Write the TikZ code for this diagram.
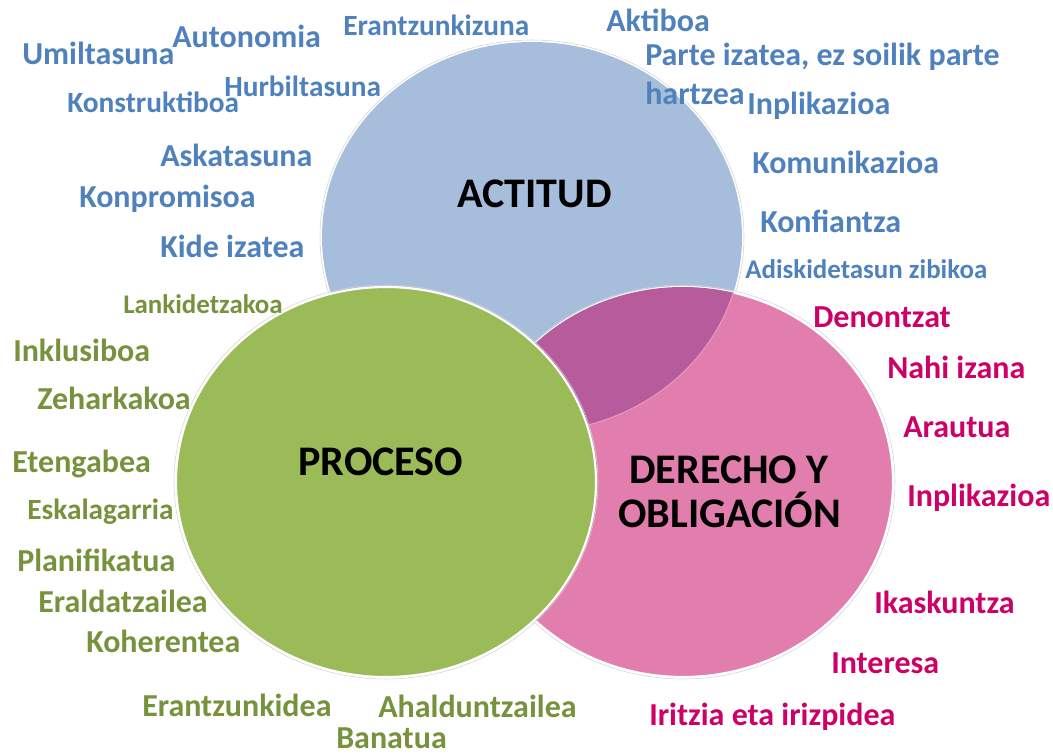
\documentclass[tikz,border=0pt]{standalone}
\usepackage{fontspec}
\setmainfont{Carlito}
\usepackage{tikz}

\definecolor{actfill}{RGB}{166,190,220}
\definecolor{procfill}{RGB}{155,187,89}
\definecolor{derfill}{RGB}{226,126,174}
\definecolor{mixfill}{RGB}{182,92,157}
\definecolor{acttext}{RGB}{79,129,189}
\definecolor{proctext}{RGB}{118,146,60}
\definecolor{dertext}{RGB}{204,0,102}

\begin{document}
\begin{tikzpicture}[x=0.75pt, y=-0.75pt,
    lbl/.style={inner sep=0pt, anchor=base west, font=\bfseries\fontsize{24}{28}\selectfont},
    small/.style={font=\bfseries\fontsize{22}{26}\selectfont},
    tiny/.style={font=\bfseries\fontsize{20.2}{24}\selectfont},
    title/.style={inner sep=0pt, anchor=base west, font=\bfseries\fontsize{31.6}{36}\selectfont},
    actlbl/.style={lbl, text=acttext},
    proclbl/.style={lbl, text=proctext},
    derlbl/.style={lbl, text=dertext},
    halo/.style={draw=gray!35, line width=0.4pt},
    rim/.style={draw=white, line width=1.6pt}]
    \useasboundingbox (0, 0) rectangle (1053, 755);

    % circles
    \draw[halo] (532, 237) ellipse [x radius=159pt, y radius=147.75pt];
    \fill[actfill] (532, 237) ellipse [x radius=157.5pt, y radius=146.25pt];
    \draw[halo] (683, 482) ellipse [x radius=159pt, y radius=147.75pt];
    \fill[derfill, rim] (683, 482) ellipse [x radius=157.5pt, y radius=146.25pt];
    \begin{scope}
        \clip (683, 482) ellipse [x radius=157.5pt, y radius=146.25pt];
        \fill[mixfill] (532, 237) ellipse [x radius=157.5pt, y radius=146.25pt];
        \draw[derfill!80!white, line width=0.8pt] (532, 237) ellipse [x radius=157.5pt, y radius=146.25pt];
    \end{scope}
    \draw[halo] (386, 482) ellipse [x radius=159pt, y radius=147.75pt];
    \fill[procfill, rim] (386, 482) ellipse [x radius=157.5pt, y radius=146.25pt];

    % titles
    \node[title] at (457, 208) (actitud) {ACTITUD};
    \node[title] at (298, 475) (proceso) {PROCESO};
    \node[title] at (629, 483) (derecho) {DERECHO Y};
    \node[title] at (618, 527) (obligacion) {OBLIGACIÓN};

    % ACTITUD
    \node[actlbl] at (22, 65) (a1) {Umiltasuna};
    \node[actlbl] at (172, 48) (a2) {Autonomia};
    \node[actlbl, small] at (343, 36) (a3) {Erantzunkizuna};
    \node[actlbl] at (606, 32) (a4) {Aktiboa};
    \node[actlbl] at (645, 66) (a5) {Parte izatea, ez soilik parte};
    \node[actlbl] at (747, 115) (a7) {Inplikazioa};
    \node[actlbl] at (645, 105) (a6) {hartzea};
    \node[actlbl] at (752, 174) (a8) {Komunikazioa};
    \node[actlbl] at (760, 233) (a9) {Konfiantza};
    \node[actlbl, tiny] at (745, 279) (a10) {Adiskidetasun zibikoa};
    \node[actlbl, small] at (224, 97) (a11) {Hurbiltasuna};
    \node[actlbl, small] at (67, 113) (a12) {Konstruktiboa};
    \node[actlbl] at (160, 167) (a13) {Askatasuna};
    \node[actlbl] at (79, 208) (a14) {Konpromisoa};
    \node[actlbl] at (160, 258) (a15) {Kide izatea};

    % PROCESO
    \node[proclbl, tiny] at (123, 314) (p1) {Lankidetzakoa};
    \node[proclbl] at (13, 362) (p2) {Inklusiboa};
    \node[proclbl] at (37, 410) (p3) {Zeharkakoa};
    \node[proclbl] at (12, 472) (p4) {Etengabea};
    \node[proclbl, small] at (27, 519) (p5) {Eskalagarria};
    \node[proclbl] at (17, 571) (p6) {Planifikatua};
    \node[proclbl] at (38, 612) (p7) {Eraldatzailea};
    \node[proclbl] at (86, 652) (p8) {Koherentea};
    \node[proclbl] at (142, 716) (p9) {Erantzunkidea};
    \node[proclbl] at (378, 717) (p10) {Ahalduntzailea};
    \node[proclbl] at (336, 748) (p11) {Banatua};

    % DERECHO Y OBLIGACION
    \node[derlbl] at (813, 328) (d1) {Denontzat};
    \node[derlbl] at (887, 379) (d2) {Nahi izana};
    \node[derlbl] at (903, 437) (d3) {Arautua};
    \node[derlbl] at (907, 506) (d4) {Inplikazioa};
    \node[derlbl] at (874, 613) (d5) {Ikaskuntza};
    \node[derlbl] at (831, 673) (d6) {Interesa};
    \node[derlbl] at (649, 725) (d7) {Iritzia eta irizpidea};
\end{tikzpicture}
\end{document}
